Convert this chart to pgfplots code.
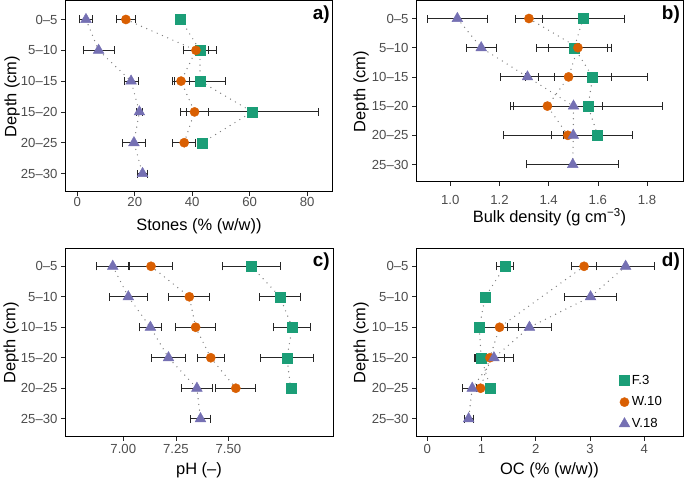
\documentclass[border=0pt]{standalone}
\usepackage{fontspec}
\setmainfont{Liberation Sans}
\usepackage{pgfplots}
\usepackage{pgfplotstable}
\pgfplotsset{compat=1.18}
\definecolor{cF}{HTML}{1B9E77}
\definecolor{cW}{HTML}{D95F02}
\definecolor{cV}{HTML}{7570B3}
\definecolor{ticktxt}{HTML}{4D4D4D}
\definecolor{dotc}{HTML}{808080}
\definecolor{ebc}{HTML}{262626}

% ---------- data: y = depth class (1 = 0-5 ... 6 = 25-30), x = mean, e = error
\pgfplotstableread{
y x e
1 35.95 1.7
2 42.7 5.8
3 42.7 9.0
4 60.9 22.9
5 43.5 0.5
}\aF
\pgfplotstableread{
y x e
1 16.9 3.2
2 41.3 4.4
3 36.1 2.9
4 40.8 4.8
5 37.2 4.0
}\aW
\pgfplotstableread{
y x e
1 3.0 2.3
2 7.4 5.4
3 18.7 2.4
4 21.6 1.2
5 19.7 4.0
6 22.7 1.85
}\aV
\pgfplotstableread{
y x e
1 1.540 0.167
2 1.504 0.152
3 1.579 0.221
4 1.560 0.303
5 1.599 0.14
}\bF
\pgfplotstableread{
y x e
1 1.320 0.053
2 1.519 0.121
3 1.481 0.174
4 1.395 0.149
5 1.478 0.261
}\bW
\pgfplotstableread{
y x e
1 1.029 0.121
2 1.126 0.062
3 1.314 0.110
4 1.501 0.116
5 1.500 0.088
6 1.498 0.187
}\bV
\pgfplotstableread{
y x e
1 7.609 0.138
2 7.745 0.097
3 7.803 0.087
4 7.778 0.125
5 7.796 0.005
}\cF
\pgfplotstableread{
y x e
1 7.132 0.101
2 7.314 0.097
3 7.344 0.096
4 7.416 0.063
5 7.535 0.095
}\cW
\pgfplotstableread{
y x e
1 6.950 0.076
2 7.024 0.090
3 7.129 0.053
4 7.215 0.081
5 7.350 0.073
6 7.367 0.048
}\cV
\pgfplotstableread{
y x e
1 1.430 0.153
2 1.068 0.02
3 0.957 0.085
4 0.994 0.10
5 1.166 0.05
}\dF
\pgfplotstableread{
y x e
1 2.890 0.227
3 1.332 0.35
4 1.154 0.27
5 0.982 0.08
}\dW
\pgfplotstableread{
y x e
1 3.657 0.54
2 3.010 0.475
3 1.883 0.40
4 1.228 0.355
5 0.828 0.177
6 0.761 0.086
}\dV

\pgfplotsset{
  panel/.style={
    scale only axis,
    ymin=0.4, ymax=6.6,
    ytick={1,2,3,4,5,6},
    yticklabels={25--30,20--25,15--20,10--15,5--10,0--5},
    xtick pos=lower, ytick pos=left,
    tick align=outside, major tick length=4bp,
    every tick/.style={ebc, line width=0.7bp},
    axis line style={black, line width=1bp},
    ticklabel style={font=\fontsize{13.2}{14}\selectfont, text=ticktxt},
    label style={font=\fontsize{16.5}{18}\selectfont},
    ylabel={Depth (cm)},
    clip=false,
  },
  dotline/.style={forget plot, dotc, line width=1.4bp, dash pattern=on 0bp off 5.7bp, line cap=round, mark=none},
  ebar/.style={forget plot, only marks, mark=none,
    error bars/.cd, x dir=both, x explicit,
    error bar style={ebc, solid, line width=0.85bp},
    error mark options={ebc, solid, line width=0.85bp, mark size=4bp, rotate=90}},
  mF/.style={forget plot, only marks, mark=square*, mark size=5bp, mark options={fill=cF, draw=cF, solid}},
  mW/.style={forget plot, only marks, mark=*, mark size=4.6bp, mark options={fill=cW, draw=cW, solid}},
  mV/.style={forget plot, only marks, mark=triangle*, mark size=6.2bp, mark options={fill=cV, draw=cV, solid}},
}

\newcommand{\series}[3]{%
  \addplot[dotline] table[x=x, y expr=7-\thisrow{y}] {#1};
  \addplot[dotline] table[x=x, y expr=7-\thisrow{y}] {#2};
  \addplot[dotline] table[x=x, y expr=7-\thisrow{y}] {#3};
  \addplot[ebar] table[x=x, y expr=7-\thisrow{y}, x error=e] {#1};
  \addplot[ebar] table[x=x, y expr=7-\thisrow{y}, x error=e] {#2};
  \addplot[ebar] table[x=x, y expr=7-\thisrow{y}, x error=e] {#3};
  \addplot[mF] table[x=x, y expr=7-\thisrow{y}] {#1};
  \addplot[mW] table[x=x, y expr=7-\thisrow{y}] {#2};
  \addplot[mV] table[x=x, y expr=7-\thisrow{y}] {#3};
}
\newcommand{\plabel}[1]{\node[anchor=north east, inner sep=0pt, font=\fontsize{19}{19}\bfseries\selectfont] at (axis description cs:1,1) [xshift=-3bp, yshift=-5bp] {#1};}

\begin{document}
\begin{tikzpicture}
\useasboundingbox (0bp,0bp) rectangle (685bp,479bp);

% ---------------- a) Stones
\begin{axis}[panel, at={(65bp,287bp)}, anchor=south west, width=268bp, height=191bp,
  xmin=-4.3, xmax=89.0, xtick={0,20,40,60,80}, xticklabels={0,20,40,60,80},
  xticklabel style={yshift=2bp},
  xlabel={Stones (\% (w/w))},
  xlabel style={at={(axis description cs:0.5,-0.199)}, anchor=base},
  ylabel style={at={(axis description cs:-0.239,0.5)}, anchor=north}]
\series{\aF}{\aW}{\aV}
\plabel{a)}
\end{axis}

% ---------------- b) Bulk density
\begin{axis}[panel, at={(416bp,297bp)}, anchor=south west, width=267bp, height=181bp,
  xmin=0.861, xmax=1.946, xtick={1.0,1.2,1.4,1.6,1.8}, xticklabels={1.0,1.2,1.4,1.6,1.8},
  xticklabel style={yshift=-6bp},
  xlabel={Bulk density (g cm\textsuperscript{−3})},
  xlabel style={at={(axis description cs:0.5,-0.225)}, anchor=base},
  ylabel style={at={(axis description cs:-0.247,0.5)}, anchor=north}]
\series{\bF}{\bW}{\bV}
\plabel{b)}
\end{axis}

% ---------------- c) pH
\begin{axis}[panel, at={(65bp,42bp)}, anchor=south west, width=268bp, height=189bp,
  xmin=6.723, xmax=7.997, xtick={7.0,7.25,7.5}, xticklabels={7.00,7.25,7.50},
  xlabel={pH (--)},
  xlabel style={at={(axis description cs:0.5,-0.196)}, anchor=base},
  ylabel style={at={(axis description cs:-0.243,0.5)}, anchor=north}]
\series{\cF}{\cW}{\cV}
\plabel{c)}
\end{axis}

% ---------------- d) OC
\begin{axis}[panel, at={(416bp,42bp)}, anchor=south west, width=267bp, height=189bp,
  xmin=-0.209, xmax=4.715, xtick={0,1,2,3,4}, xticklabels={0,1,2,3,4},
  xlabel={OC (\% (w/w))},
  xlabel style={at={(axis description cs:0.5,-0.2)}, anchor=base},
  ylabel style={at={(axis description cs:-0.247,0.5)}, anchor=north},
  legend style={at={(axis description cs:0.76,0.03)}, anchor=south west, draw=none, fill=none,
    font=\fontsize{13.2}{14}\selectfont, row sep=7bp, inner sep=0pt},
  legend cell align=left]
\addlegendimage{only marks, mark=square*, mark size=5bp, mark options={fill=cF, draw=cF}}
\addlegendentry{F.3}
\addlegendimage{only marks, mark=*, mark size=4.6bp, mark options={fill=cW, draw=cW}}
\addlegendentry{W.10}
\addlegendimage{only marks, mark=triangle*, mark size=6.2bp, mark options={fill=cV, draw=cV}}
\addlegendentry{V.18}
\series{\dF}{\dW}{\dV}
\plabel{d)}
\end{axis}
\end{tikzpicture}
\end{document}
